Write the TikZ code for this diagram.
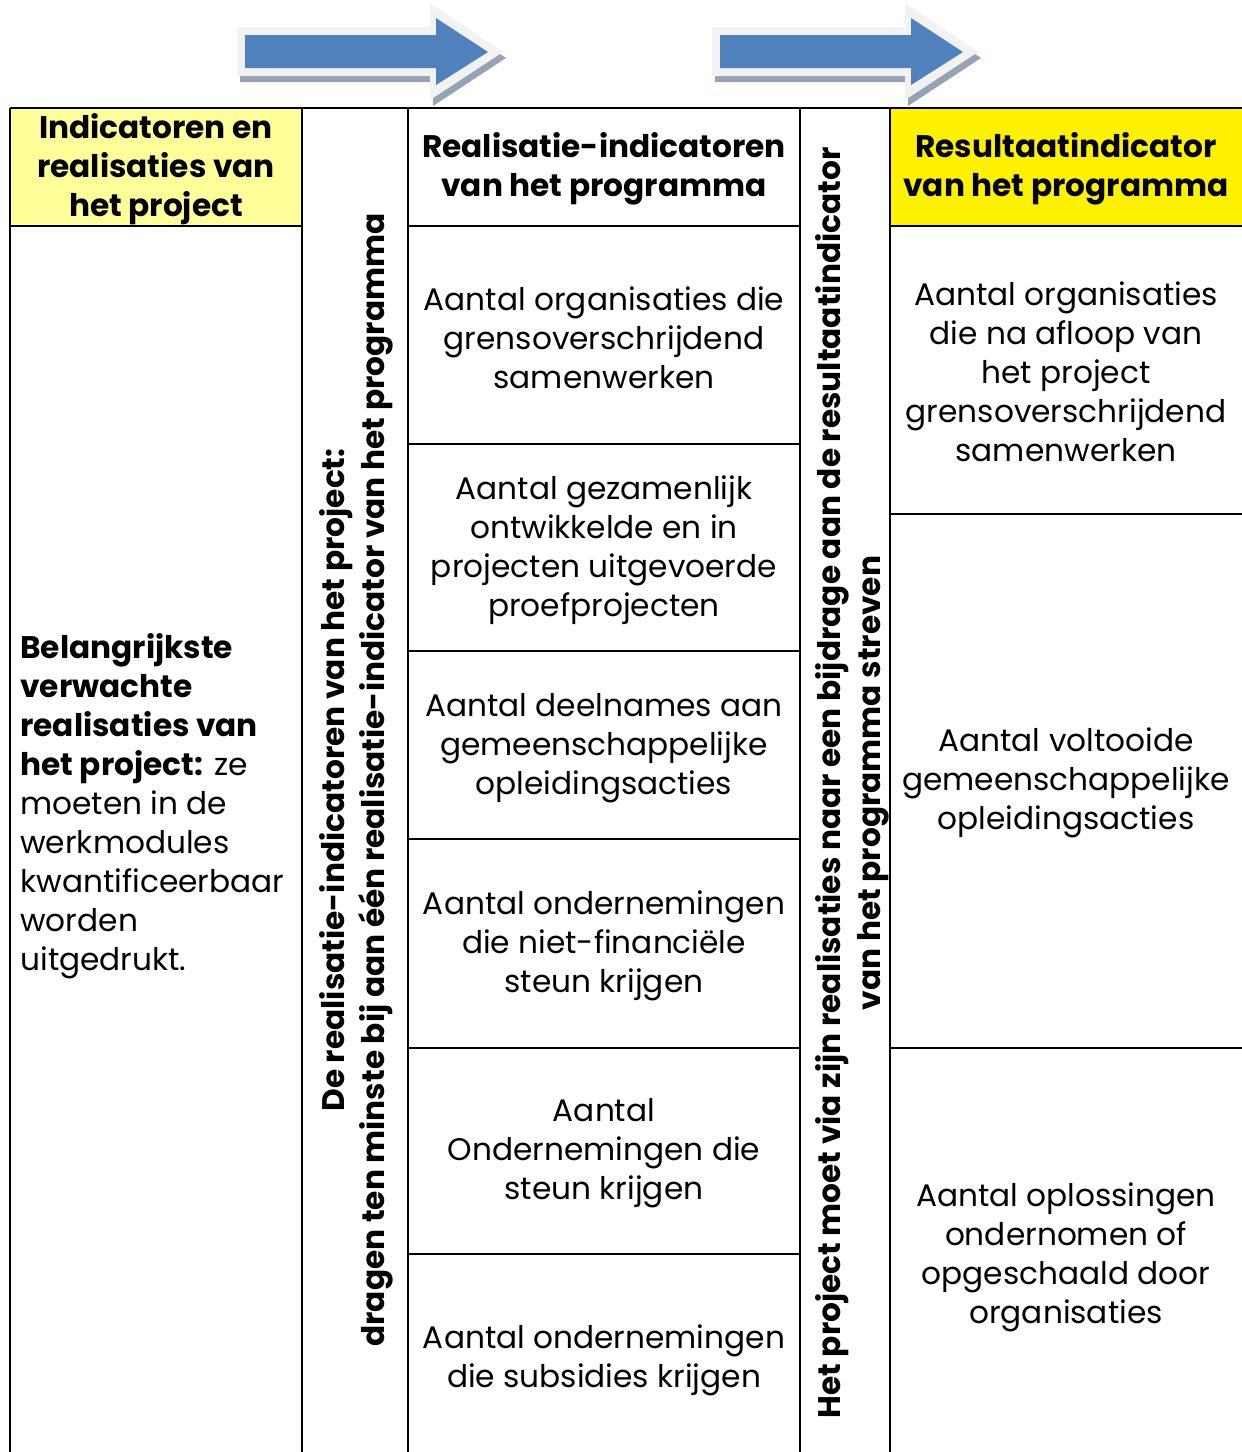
\documentclass[tikz,border=0pt]{standalone}
\usepackage{fontspec}
\setmainfont{Poppins}
\usepackage{xcolor}
\definecolor{paleyellow}{HTML}{FFFF99}
\definecolor{arrowblue}{HTML}{4F81BD}
\definecolor{arrowrim}{HTML}{F2F2F2}
\definecolor{arrowshade}{HTML}{95A3B5}

\begin{document}
\begin{tikzpicture}[x=0.5pt, y=-0.5pt,
	grid/.style={line width=1pt, black},
	cell/.style={align=center, font=\fontsize{15.6}{19.5}\selectfont, inner sep=0pt},
	headcell/.style={cell, font=\fontsize{15.6}{19.5}\selectfont\bfseries},
	sidecell/.style={align=center, rotate=90, font=\fontsize{15.6}{20}\selectfont\bfseries, inner sep=0pt}]
	\useasboundingbox (0, 0) rectangle (1242, 1452);
	% arrows on top
	\foreach \dx in {0, 475} {
		\begin{scope}[xshift=\dx*0.5pt]
			\fill[arrowshade] (240, 33) -- (433, 33) -- (433, 9) -- (506, 58) -- (433, 106) -- (433, 82) -- (240, 82) -- cycle;
			\fill[arrowrim] (237, 27) -- (430, 27) -- (430, 3) -- (503, 52) -- (430, 100) -- (430, 76) -- (237, 76) -- cycle;
			\fill[arrowblue] (245, 35) -- (436, 35) -- (436, 18) -- (488, 52) -- (436, 85) -- (436, 68) -- (245, 68) -- cycle;
		\end{scope}
	}
	% header fills
	\fill[paleyellow] (10, 108) rectangle (302, 226);
	\fill[yellow] (890, 108) rectangle (1242, 226);
	% grid
	\coordinate (top-l) at (10, 108);
	\coordinate (top-r) at (1242, 108);
	\draw[grid] (top-l) -- (top-r);
	\foreach \x in {10, 302, 408, 800, 890}
		\draw[grid] (\x, 108) -- (\x, 1452);
	\draw[grid] (10, 226) -- (302, 226);
	\foreach \y in {226, 444, 651, 839, 1048, 1254}
		\draw[grid] (408, \y) -- (800, \y);
	\foreach \y in {226, 514, 1048}
		\draw[grid] (890, \y) -- (1242, \y);
	% column 1
	\node[headcell] (proj-head) at (156, 169) {Indicatoren en\\realisaties van\\het project};
	\node[cell, align=left, anchor=west] (proj-body) at (20, 806) {\textbf{Belangrijkste}\\\textbf{verwachte}\\\textbf{realisaties van}\\\textbf{het project}\textbf{:} ze\\moeten in de\\werkmodules\\kwantificeerbaar\\worden\\uitgedrukt.};
	% column 2
	\node[sidecell] (proj-side) at (356, 780) {De realisatie-indicatoren van het project:\\dragen ten minste bij aan één realisatie-indicator van het programma};
	% column 3
	\node[headcell] (real-head) at (604, 169) {Realisatie-indicatoren\\van het programma};
	\node[cell] (real-1) at (604, 338) {Aantal organisaties die\\grensoverschrijdend\\samenwerken};
	\node[cell] (real-2) at (604, 550) {Aantal gezamenlijk\\ontwikkelde en in\\projecten uitgevoerde\\proefprojecten};
	\node[cell] (real-3) at (604, 748) {Aantal deelnames aan\\gemeenschappelijke\\opleidingsacties};
	\node[cell] (real-4) at (604, 946) {Aantal ondernemingen\\die niet-financiële\\steun krijgen};
	\node[cell] (real-5) at (604, 1153) {Aantal\\Ondernemingen die\\steun krijgen};
	\node[cell] (real-6) at (604, 1360) {Aantal ondernemingen\\die subsidies krijgen};
	% column 4
	\node[sidecell] (res-side) at (852, 783) {Het project moet via zijn realisaties naar een bijdrage aan de resultaatindicator\\van het programma streven};
	% column 5
	\node[headcell] (res-head) at (1066, 169) {Resultaatindicator\\van het programma};
	\node[cell] (res-1) at (1066, 372) {Aantal organisaties\\die na afloop van\\het project\\grensoverschrijdend\\samenwerken};
	\node[cell] (res-2) at (1066, 783) {Aantal voltooide\\gemeenschappelijke\\opleidingsacties};
	\node[cell] (res-3) at (1066, 1257) {Aantal oplossingen\\ondernomen of\\opgeschaald door\\organisaties};
\end{tikzpicture}
\end{document}
